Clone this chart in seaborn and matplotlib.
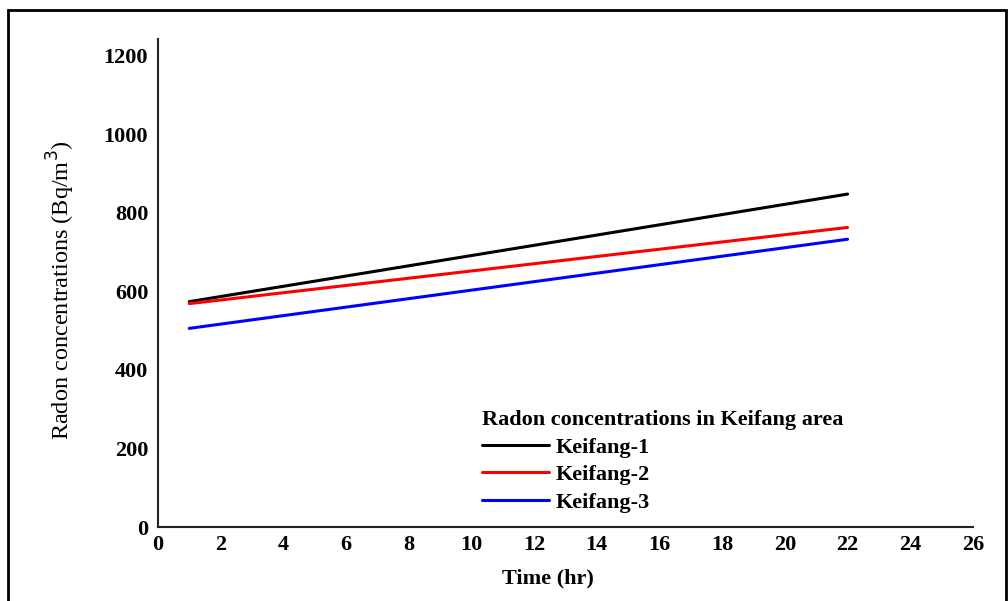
import matplotlib
matplotlib.use("Agg")
import matplotlib.pyplot as plt
import seaborn as sns
import pandas as pd
from matplotlib.patches import Rectangle

time_hr = [1, 22]
keifang_1 = [574, 848]
keifang_2 = [569, 763]
keifang_3 = [506, 733]
series_names = ["Keifang-1", "Keifang-2", "Keifang-3"]
colors = ["black", "red", "blue"]
x_ticks = list(range(0, 27, 2))
y_ticks = list(range(0, 1201, 200))

rows = []
for name, vals in zip(series_names, [keifang_1, keifang_2, keifang_3]):
    for t, v in zip(time_hr, vals):
        rows.append({"Time": t, "Radon": v, "Site": name})
df = pd.DataFrame(rows)

sns.set_theme(style="white")
plt.rcParams['font.family'] = ['Liberation Serif', 'DejaVu Serif']
plt.rcParams['text.color'] = 'black'
plt.rcParams['axes.labelcolor'] = 'black'
plt.rcParams['xtick.color'] = 'black'
plt.rcParams['ytick.color'] = 'black'

fig = plt.figure(figsize=(10.08, 6.01), dpi=100)
ax = fig.add_axes([0.1567, 0.1231, 0.8085, 0.812])

sns.lineplot(data=df, x="Time", y="Radon", hue="Site", palette=colors,
             linewidth=2.2, ax=ax, legend=True)

ax.set_xlim(0, 26)
ax.set_ylim(0, 1243)
ax.set_xticks(x_ticks)
ax.set_yticks(y_ticks)
ax.set_xticklabels([str(t) for t in x_ticks], fontsize=16, fontweight='bold')
ax.set_yticklabels([str(t) for t in y_ticks], fontsize=16, fontweight='bold')
ax.tick_params(axis='both', length=0)
ax.tick_params(axis='y', pad=7)
ax.tick_params(axis='x', pad=6)
for s in ['top', 'right']:
    ax.spines[s].set_visible(False)
for s in ['left', 'bottom']:
    ax.spines[s].set_color('#222222')
    ax.spines[s].set_linewidth(1.5)

ax.set_xlabel("Time (hr)", fontsize=16, fontweight='bold')
ax.xaxis.set_label_coords(0.479, -0.085)
ax.set_ylabel("Radon concentrations (Bq/m$^3$)", fontsize=17.5)
ax.yaxis.set_label_coords(-0.099, 0.485)

leg = ax.legend(title="Radon concentrations in Keifang area", loc='upper left',
                bbox_to_anchor=(0.398, 0.240), frameon=False,
                prop={'size': 16, 'weight': 'bold'}, handlelength=3.0,
                handletextpad=0.3, labelspacing=0.32, borderpad=0,
                borderaxespad=0)
leg.get_title().set_fontsize(16)
leg.get_title().set_fontweight('bold')
leg._legend_box.align = "left"

fig.patches.append(Rectangle((0.008, -0.01), 0.99, 0.993, transform=fig.transFigure,
                             fill=False, edgecolor='black', linewidth=2))

fig.savefig("out.png", dpi=100)
